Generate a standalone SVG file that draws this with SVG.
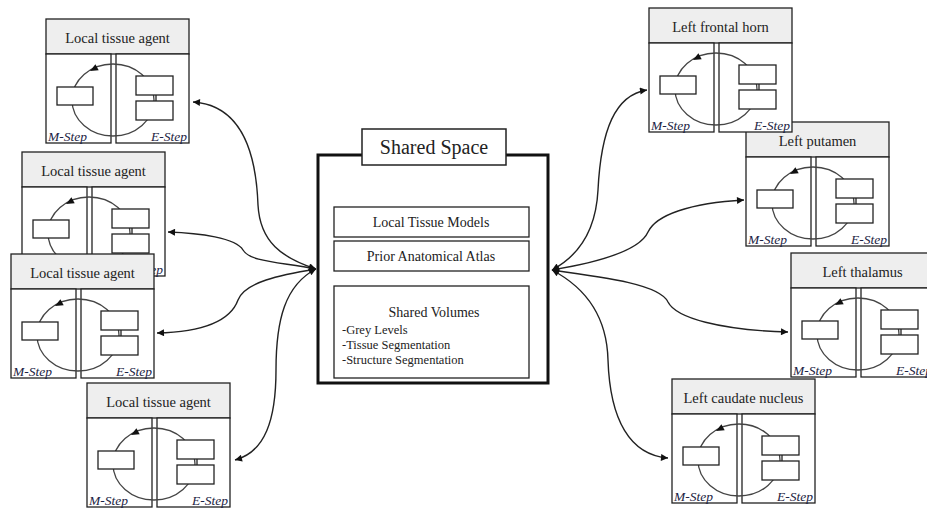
<svg xmlns="http://www.w3.org/2000/svg" xmlns:xlink="http://www.w3.org/1999/xlink" width="927" height="510" viewBox="0 0 927 510">
<style>
.bx{fill:#fff;stroke:#222;stroke-width:1.3}
.hd{fill:#eeeeee;stroke:#222;stroke-width:1.3}
.cyc{fill:none;stroke:#444;stroke-width:1.3}
.ttl{font-family:"Liberation Serif","Times New Roman",serif;font-size:14.5px;fill:#222;text-anchor:middle}
.stp{font-family:"Liberation Serif","Times New Roman",serif;font-size:13.5px;font-style:italic;fill:#1c2444}
.end{text-anchor:end}
.con{fill:none;stroke:#222;stroke-width:1.4;marker-start:url(#ah);marker-end:url(#ah)}
.ser{font-family:"Liberation Serif","Times New Roman",serif;fill:#222}
</style>
<defs>
<marker id="ah" viewBox="0 0 10 10" refX="10" refY="5" markerWidth="9" markerHeight="7" markerUnits="userSpaceOnUse" orient="auto-start-reverse">
<path d="M0,0 L10,5 L0,10 z" fill="#111"/>
</marker>
<g id="agentBody">
<rect class="hd" x="0" y="0" width="143" height="35"/>
<rect class="bx" x="0" y="35" width="65" height="89"/>
<rect class="bx" x="70" y="35" width="73" height="89"/>
<ellipse class="cyc" cx="67" cy="81" rx="41" ry="36"/>
<polygon points="44,52 52.7,51.3 49.4,45.2" fill="#111"/>
<rect class="bx" x="11" y="68" width="36" height="18"/>
<rect class="bx" x="90" y="57" width="37" height="19"/>
<rect class="bx" x="90" y="82" width="37" height="19"/>
<line x1="110" y1="76" x2="110" y2="82" stroke="#222" stroke-width="1.3"/>
</g>
</defs>
<rect width="927" height="510" fill="#fff"/>
<g id="connectors">
<path class="con" d="M316,269 C282,258 260,242 258,205 C256,150 240,105 193,102"/>
<path class="con" d="M316,269 C280,262 250,262 243,250 C236,238 200,233 168,232"/>
<path class="con" d="M316,269 C280,275 245,282 238,300 C230,322 200,332 157,333"/>
<path class="con" d="M316,269 C285,285 276,320 276,370 C276,420 265,452 235,460"/>
<path class="con" d="M552,270 C580,255 596,230 598,190 C601,130 615,95 647,90"/>
<path class="con" d="M552,270 C600,262 640,250 648,232 C656,215 690,203 744,200"/>
<path class="con" d="M552,270 C610,278 660,285 668,302 C676,318 720,330 788,332"/>
<path class="con" d="M552,270 C590,290 607,320 608,360 C610,420 630,455 668,458"/>
</g>
<g id="agent1" transform="translate(46,19)">
<use xlink:href="#agentBody"/>
<text class="ttl" x="71.5" y="24">Local tissue agent</text>
<text class="stp" x="2" y="122">M-Step</text>
<text class="stp end" x="141" y="122">E-Step</text>
</g>
<g id="agent2" transform="translate(22,152)">
<use xlink:href="#agentBody"/>
<text class="ttl" x="71.5" y="24">Local tissue agent</text>
<text class="stp" x="2" y="122">M-Step</text>
<text class="stp end" x="141" y="122">E-Step</text>
</g>
<g id="agent3" transform="translate(11,254)">
<use xlink:href="#agentBody"/>
<text class="ttl" x="71.5" y="24">Local tissue agent</text>
<text class="stp" x="2" y="122">M-Step</text>
<text class="stp end" x="141" y="122">E-Step</text>
</g>
<g id="agent4" transform="translate(87,383)">
<use xlink:href="#agentBody"/>
<text class="ttl" x="71.5" y="24">Local tissue agent</text>
<text class="stp" x="2" y="122">M-Step</text>
<text class="stp end" x="141" y="122">E-Step</text>
</g>
<g id="putamen" transform="translate(746,122)">
<use xlink:href="#agentBody"/>
<text class="ttl" x="71.5" y="24">Left putamen</text>
<text class="stp" x="2" y="122">M-Step</text>
<text class="stp end" x="141" y="122">E-Step</text>
</g>
<g id="frontalHorn" transform="translate(649,8)">
<use xlink:href="#agentBody"/>
<text class="ttl" x="71.5" y="24">Left frontal horn</text>
<text class="stp" x="2" y="122">M-Step</text>
<text class="stp end" x="141" y="122">E-Step</text>
</g>
<g id="thalamus" transform="translate(791,253)">
<use xlink:href="#agentBody"/>
<text class="ttl" x="71.5" y="24">Left thalamus</text>
<text class="stp" x="2" y="122">M-Step</text>
<text class="stp end" x="141" y="122">E-Step</text>
</g>
<g id="caudate" transform="translate(672,379)">
<use xlink:href="#agentBody"/>
<text class="ttl" x="71.5" y="24">Left caudate nucleus</text>
<text class="stp" x="2" y="122">M-Step</text>
<text class="stp end" x="141" y="122">E-Step</text>
</g>
<g id="sharedSpace">
<rect x="318" y="155" width="230" height="228" fill="#fff" stroke="#111" stroke-width="3"/>
<rect x="362" y="129" width="144" height="36" fill="#fff" stroke="#222" stroke-width="1.5"/>
<text class="ser" x="434" y="154" font-size="20" text-anchor="middle">Shared Space</text>
<rect class="bx" x="334" y="207" width="195" height="30"/>
<text class="ser" x="431" y="227" font-size="14" text-anchor="middle">Local Tissue Models</text>
<rect class="bx" x="334" y="241" width="195" height="30"/>
<text class="ser" x="431" y="261" font-size="14" text-anchor="middle">Prior Anatomical Atlas</text>
<rect class="bx" x="334" y="286" width="195" height="92"/>
<text class="ser" x="434" y="317" font-size="14" text-anchor="middle">Shared Volumes</text>
<text class="ser" x="342" y="334" font-size="12.5">-Grey Levels</text>
<text class="ser" x="342" y="349" font-size="12.5">-Tissue Segmentation</text>
<text class="ser" x="342" y="364" font-size="12.5">-Structure Segmentation</text>
</g>
</svg>
